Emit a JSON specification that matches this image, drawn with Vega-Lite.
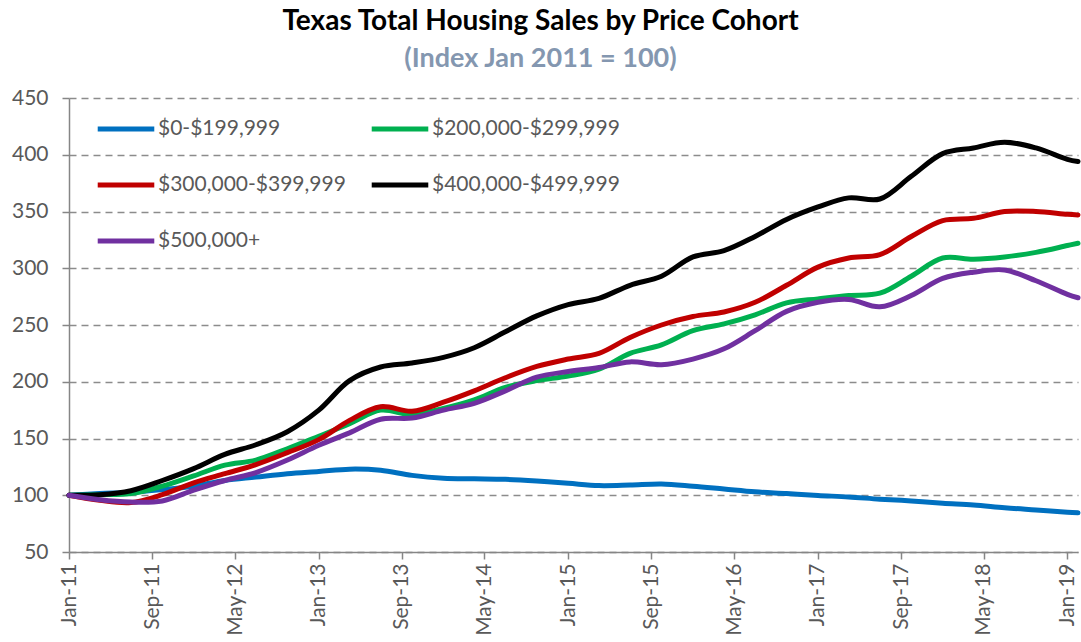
{
"$schema": "https://vega.github.io/schema/vega-lite/v6.json",
"width": 1009, "height": 454,
"autosize": {"type": "none"},
"padding": {"left": 69, "top": 98, "right": 3, "bottom": 90},
"background": "white",
"title": {"text": "Texas Total Housing Sales by Price Cohort", "subtitle": "(Index Jan 2011 = 100)", "anchor": "middle", "frame": "group", "dx": -33, "offset": 15, "font": "Lato", "fontSize": 28, "fontWeight": "bold", "color": "#000000", "subtitleFont": "Lato", "subtitleFontSize": 27, "subtitleFontWeight": "bold", "subtitleColor": "#8497B0", "subtitlePadding": 10},
"config": {"view": {"stroke": null}, "font": "Lato"},
"datasets": {"d": [
{"date":"2011-01","cohort":"$0-$199,999","index":100},{"date":"2011-04","cohort":"$0-$199,999","index":101.5},{"date":"2011-07","cohort":"$0-$199,999","index":102.5},{"date":"2011-10","cohort":"$0-$199,999","index":105},{"date":"2012-01","cohort":"$0-$199,999","index":108},{"date":"2012-04","cohort":"$0-$199,999","index":113},{"date":"2012-07","cohort":"$0-$199,999","index":116},{"date":"2012-10","cohort":"$0-$199,999","index":119},{"date":"2013-01","cohort":"$0-$199,999","index":121},{"date":"2013-04","cohort":"$0-$199,999","index":123},{"date":"2013-07","cohort":"$0-$199,999","index":122},{"date":"2013-10","cohort":"$0-$199,999","index":117.5},{"date":"2014-01","cohort":"$0-$199,999","index":115},{"date":"2014-04","cohort":"$0-$199,999","index":114.5},{"date":"2014-07","cohort":"$0-$199,999","index":114},{"date":"2014-10","cohort":"$0-$199,999","index":112.5},{"date":"2015-01","cohort":"$0-$199,999","index":110.5},{"date":"2015-04","cohort":"$0-$199,999","index":108.5},{"date":"2015-07","cohort":"$0-$199,999","index":109},{"date":"2015-10","cohort":"$0-$199,999","index":110},{"date":"2016-01","cohort":"$0-$199,999","index":108},{"date":"2016-04","cohort":"$0-$199,999","index":105.5},{"date":"2016-07","cohort":"$0-$199,999","index":103},{"date":"2016-10","cohort":"$0-$199,999","index":101.5},{"date":"2017-01","cohort":"$0-$199,999","index":99.8},{"date":"2017-04","cohort":"$0-$199,999","index":98.5},{"date":"2017-07","cohort":"$0-$199,999","index":96.5},{"date":"2017-10","cohort":"$0-$199,999","index":95},{"date":"2018-01","cohort":"$0-$199,999","index":93},{"date":"2018-04","cohort":"$0-$199,999","index":91.5},{"date":"2018-07","cohort":"$0-$199,999","index":89},{"date":"2018-10","cohort":"$0-$199,999","index":87},{"date":"2019-01","cohort":"$0-$199,999","index":85},{"date":"2019-02","cohort":"$0-$199,999","index":84.5},
{"date":"2011-01","cohort":"$200,000-$299,999","index":100},{"date":"2011-04","cohort":"$200,000-$299,999","index":100.5},{"date":"2011-07","cohort":"$200,000-$299,999","index":101.5},{"date":"2011-10","cohort":"$200,000-$299,999","index":108},{"date":"2012-01","cohort":"$200,000-$299,999","index":117},{"date":"2012-04","cohort":"$200,000-$299,999","index":126.5},{"date":"2012-07","cohort":"$200,000-$299,999","index":131},{"date":"2012-10","cohort":"$200,000-$299,999","index":141},{"date":"2013-01","cohort":"$200,000-$299,999","index":152},{"date":"2013-04","cohort":"$200,000-$299,999","index":163},{"date":"2013-07","cohort":"$200,000-$299,999","index":175},{"date":"2013-10","cohort":"$200,000-$299,999","index":171},{"date":"2014-01","cohort":"$200,000-$299,999","index":176.5},{"date":"2014-04","cohort":"$200,000-$299,999","index":184},{"date":"2014-07","cohort":"$200,000-$299,999","index":195},{"date":"2014-10","cohort":"$200,000-$299,999","index":201},{"date":"2015-01","cohort":"$200,000-$299,999","index":205},{"date":"2015-04","cohort":"$200,000-$299,999","index":211},{"date":"2015-07","cohort":"$200,000-$299,999","index":225},{"date":"2015-10","cohort":"$200,000-$299,999","index":232.5},{"date":"2016-01","cohort":"$200,000-$299,999","index":245},{"date":"2016-04","cohort":"$200,000-$299,999","index":251},{"date":"2016-07","cohort":"$200,000-$299,999","index":259},{"date":"2016-10","cohort":"$200,000-$299,999","index":269.5},{"date":"2017-01","cohort":"$200,000-$299,999","index":273},{"date":"2017-04","cohort":"$200,000-$299,999","index":276},{"date":"2017-07","cohort":"$200,000-$299,999","index":278},{"date":"2017-10","cohort":"$200,000-$299,999","index":293},{"date":"2018-01","cohort":"$200,000-$299,999","index":309},{"date":"2018-04","cohort":"$200,000-$299,999","index":308},{"date":"2018-07","cohort":"$200,000-$299,999","index":310},{"date":"2018-10","cohort":"$200,000-$299,999","index":314},{"date":"2019-01","cohort":"$200,000-$299,999","index":320},{"date":"2019-02","cohort":"$200,000-$299,999","index":322},
{"date":"2011-01","cohort":"$300,000-$399,999","index":100},{"date":"2011-04","cohort":"$300,000-$399,999","index":95.5},{"date":"2011-07","cohort":"$300,000-$399,999","index":93.5},{"date":"2011-10","cohort":"$300,000-$399,999","index":100.5},{"date":"2012-01","cohort":"$300,000-$399,999","index":111},{"date":"2012-04","cohort":"$300,000-$399,999","index":119},{"date":"2012-07","cohort":"$300,000-$399,999","index":127},{"date":"2012-10","cohort":"$300,000-$399,999","index":137.5},{"date":"2013-01","cohort":"$300,000-$399,999","index":149},{"date":"2013-04","cohort":"$300,000-$399,999","index":166},{"date":"2013-07","cohort":"$300,000-$399,999","index":178},{"date":"2013-10","cohort":"$300,000-$399,999","index":174},{"date":"2014-01","cohort":"$300,000-$399,999","index":182},{"date":"2014-04","cohort":"$300,000-$399,999","index":192},{"date":"2014-07","cohort":"$300,000-$399,999","index":203.5},{"date":"2014-10","cohort":"$300,000-$399,999","index":213.5},{"date":"2015-01","cohort":"$300,000-$399,999","index":220},{"date":"2015-04","cohort":"$300,000-$399,999","index":225},{"date":"2015-07","cohort":"$300,000-$399,999","index":239},{"date":"2015-10","cohort":"$300,000-$399,999","index":250},{"date":"2016-01","cohort":"$300,000-$399,999","index":257.5},{"date":"2016-04","cohort":"$300,000-$399,999","index":261.5},{"date":"2016-07","cohort":"$300,000-$399,999","index":270},{"date":"2016-10","cohort":"$300,000-$399,999","index":285},{"date":"2017-01","cohort":"$300,000-$399,999","index":301},{"date":"2017-04","cohort":"$300,000-$399,999","index":309},{"date":"2017-07","cohort":"$300,000-$399,999","index":312},{"date":"2017-10","cohort":"$300,000-$399,999","index":328},{"date":"2018-01","cohort":"$300,000-$399,999","index":342},{"date":"2018-04","cohort":"$300,000-$399,999","index":344},{"date":"2018-07","cohort":"$300,000-$399,999","index":350},{"date":"2018-10","cohort":"$300,000-$399,999","index":350},{"date":"2019-01","cohort":"$300,000-$399,999","index":347.5},{"date":"2019-02","cohort":"$300,000-$399,999","index":347},
{"date":"2011-01","cohort":"$400,000-$499,999","index":100},{"date":"2011-04","cohort":"$400,000-$499,999","index":100.5},{"date":"2011-07","cohort":"$400,000-$499,999","index":104},{"date":"2011-10","cohort":"$400,000-$499,999","index":113},{"date":"2012-01","cohort":"$400,000-$499,999","index":123.5},{"date":"2012-04","cohort":"$400,000-$499,999","index":136},{"date":"2012-07","cohort":"$400,000-$499,999","index":144.5},{"date":"2012-10","cohort":"$400,000-$499,999","index":156},{"date":"2013-01","cohort":"$400,000-$499,999","index":175},{"date":"2013-04","cohort":"$400,000-$499,999","index":201},{"date":"2013-07","cohort":"$400,000-$499,999","index":213},{"date":"2013-10","cohort":"$400,000-$499,999","index":216.5},{"date":"2014-01","cohort":"$400,000-$499,999","index":221.5},{"date":"2014-04","cohort":"$400,000-$499,999","index":230},{"date":"2014-07","cohort":"$400,000-$499,999","index":244},{"date":"2014-10","cohort":"$400,000-$499,999","index":258},{"date":"2015-01","cohort":"$400,000-$499,999","index":268},{"date":"2015-04","cohort":"$400,000-$499,999","index":273.5},{"date":"2015-07","cohort":"$400,000-$499,999","index":285},{"date":"2015-10","cohort":"$400,000-$499,999","index":293},{"date":"2016-01","cohort":"$400,000-$499,999","index":310},{"date":"2016-04","cohort":"$400,000-$499,999","index":315.5},{"date":"2016-07","cohort":"$400,000-$499,999","index":328},{"date":"2016-10","cohort":"$400,000-$499,999","index":343},{"date":"2017-01","cohort":"$400,000-$499,999","index":354},{"date":"2017-04","cohort":"$400,000-$499,999","index":362},{"date":"2017-07","cohort":"$400,000-$499,999","index":361},{"date":"2017-10","cohort":"$400,000-$499,999","index":381},{"date":"2018-01","cohort":"$400,000-$499,999","index":401},{"date":"2018-04","cohort":"$400,000-$499,999","index":406},{"date":"2018-07","cohort":"$400,000-$499,999","index":411},{"date":"2018-10","cohort":"$400,000-$499,999","index":406},{"date":"2019-01","cohort":"$400,000-$499,999","index":396},{"date":"2019-02","cohort":"$400,000-$499,999","index":394},
{"date":"2011-01","cohort":"$500,000+","index":100},{"date":"2011-04","cohort":"$500,000+","index":96},{"date":"2011-07","cohort":"$500,000+","index":94},{"date":"2011-10","cohort":"$500,000+","index":95},{"date":"2012-01","cohort":"$500,000+","index":104.5},{"date":"2012-04","cohort":"$500,000+","index":113},{"date":"2012-07","cohort":"$500,000+","index":120},{"date":"2012-10","cohort":"$500,000+","index":131},{"date":"2013-01","cohort":"$500,000+","index":144},{"date":"2013-04","cohort":"$500,000+","index":155},{"date":"2013-07","cohort":"$500,000+","index":167},{"date":"2013-10","cohort":"$500,000+","index":168},{"date":"2014-01","cohort":"$500,000+","index":175},{"date":"2014-04","cohort":"$500,000+","index":181},{"date":"2014-07","cohort":"$500,000+","index":192},{"date":"2014-10","cohort":"$500,000+","index":204},{"date":"2015-01","cohort":"$500,000+","index":209},{"date":"2015-04","cohort":"$500,000+","index":212.5},{"date":"2015-07","cohort":"$500,000+","index":217.5},{"date":"2015-10","cohort":"$500,000+","index":215},{"date":"2016-01","cohort":"$500,000+","index":220},{"date":"2016-04","cohort":"$500,000+","index":229},{"date":"2016-07","cohort":"$500,000+","index":245},{"date":"2016-10","cohort":"$500,000+","index":262},{"date":"2017-01","cohort":"$500,000+","index":270},{"date":"2017-04","cohort":"$500,000+","index":272.5},{"date":"2017-07","cohort":"$500,000+","index":266},{"date":"2017-10","cohort":"$500,000+","index":276},{"date":"2018-01","cohort":"$500,000+","index":291},{"date":"2018-04","cohort":"$500,000+","index":296.5},{"date":"2018-07","cohort":"$500,000+","index":298.5},{"date":"2018-10","cohort":"$500,000+","index":289},{"date":"2019-01","cohort":"$500,000+","index":277},{"date":"2019-02","cohort":"$500,000+","index":274}
]},
"data": {"name": "d"},
"mark": {"type": "line", "strokeWidth": 5, "interpolate": "catmull-rom", "strokeCap": "round", "strokeJoin": "round"},
"encoding": {
"x": {"field": "date", "type": "temporal",
"scale": {"type": "utc", "domain": [{"year": 2011, "month": 1, "date": 1, "utc": true}, {"year": 2019, "month": 2, "date": 1, "utc": true}]},
"axis": {"values": [{"year":2011,"month":1,"date":1,"utc":true},{"year":2011,"month":9,"date":1,"utc":true},{"year":2012,"month":5,"date":1,"utc":true},{"year":2013,"month":1,"date":1,"utc":true},{"year":2013,"month":9,"date":1,"utc":true},{"year":2014,"month":5,"date":1,"utc":true},{"year":2015,"month":1,"date":1,"utc":true},{"year":2015,"month":9,"date":1,"utc":true},{"year":2016,"month":5,"date":1,"utc":true},{"year":2017,"month":1,"date":1,"utc":true},{"year":2017,"month":9,"date":1,"utc":true},{"year":2018,"month":5,"date":1,"utc":true},{"year":2019,"month":1,"date":1,"utc":true}],
"labelExpr": "utcFormat(datum.value, '%b-%y')", "labelAngle": -90, "labelFont": "Lato", "labelFontSize": 21, "labelColor": "#595959", "grid": false, "domainColor": "#868686", "domainWidth": 1.5, "tickColor": "#868686", "tickWidth": 1.5, "tickSize": 7, "labelPadding": 4, "title": null, "labelOverlap": false, "labelFlush": false}},
"y": {"field": "index", "type": "quantitative", "scale": {"domain": [50, 450], "nice": false},
"axis": {"values": [50,100,150,200,250,300,350,400,450], "labelFont": "Lato", "labelFontSize": 21, "labelColor": "#595959", "grid": true, "gridDash": [7,5], "gridColor": "#8c8c8c", "gridWidth": 1.5, "domainColor": "#868686", "domainWidth": 1.5, "tickColor": "#868686", "tickWidth": 1.5, "tickSize": 7, "labelPadding": 14, "title": null}},
"color": {"field": "cohort", "type": "nominal",
"scale": {"domain": ["$0-$199,999", "$200,000-$299,999", "$300,000-$399,999", "$400,000-$499,999", "$500,000+"], "range": ["#0070C0", "#00B050", "#C00000", "#000000", "#7030A0"]},
"legend": {"orient": "none", "direction": "horizontal", "legendX": 26, "legendY": 0, "columns": 2, "symbolType": "stroke", "symbolSize": 3200, "symbolStrokeWidth": 5, "labelFont": "Lato", "labelFontSize": 21, "labelColor": "#595959", "labelOffset": 1, "columnPadding": 15, "rowPadding": 15, "title": null, "labelLimit": 400}}
}
}
